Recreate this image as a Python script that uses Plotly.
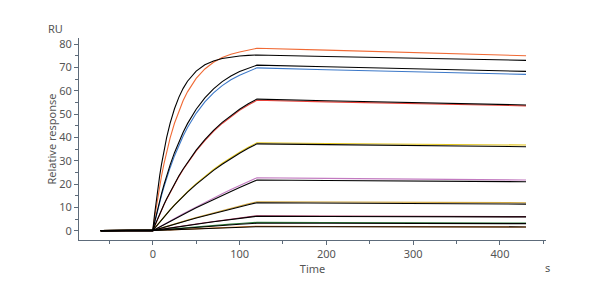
import plotly.graph_objects as go

# Time points (s)
T_BASE = [-60, 0]
T_ASSOC = [2, 4, 6, 8, 10, 13, 16, 20, 25, 30, 35, 40, 50, 60, 70, 80, 90, 100, 110, 120]
T_DISSOC = [200, 300, 430]

# Measured responses (RU), association then dissociation
data_1 = [5.34, 10.32, 14.96, 19.29, 23.33, 28.88, 33.87, 39.77, 46.06, 51.36, 55.79, 59.52, 65.27, 69.32, 72.18, 74.20, 75.61, 76.61, 77.32, 78.2, 77.4, 76.3, 75.0]
data_2 = [3.28, 6.41, 9.41, 12.27, 15.01, 18.89, 22.52, 27.00, 32.05, 36.56, 40.60, 44.21, 50.31, 55.19, 59.08, 62.19, 64.67, 66.65, 68.23, 69.8, 69.0, 68.1, 67.0]
data_3 = [1.85, 3.66, 5.42, 7.13, 8.79, 11.21, 13.52, 16.46, 19.93, 23.18, 26.21, 29.05, 34.16, 38.63, 42.54, 45.97, 48.95, 51.56, 53.84, 55.9, 55.2, 54.5, 53.5]
data_4 = [0.97, 1.92, 2.87, 3.79, 4.70, 6.04, 7.33, 9.04, 11.07, 13.04, 14.92, 16.74, 20.14, 23.29, 26.20, 28.87, 31.35, 33.64, 35.75, 37.69, 37.4, 37.1, 36.7]
data_5 = [0.43, 0.86, 1.29, 1.72, 2.14, 2.77, 3.40, 4.24, 5.26, 6.28, 7.28, 8.27, 10.23, 12.13, 14.00, 15.83, 17.60, 19.35, 21.05, 22.71, 22.4, 22.1, 21.7]
data_6 = [0.24, 0.46, 0.70, 0.94, 1.17, 1.51, 1.86, 2.31, 2.87, 3.43, 3.98, 4.51, 5.59, 6.62, 7.64, 8.64, 9.61, 10.57, 11.49, 12.40, 12.3, 12.2, 12.0]
data_7 = [0.12, 0.24, 0.36, 0.49, 0.61, 0.78, 0.96, 1.20, 1.49, 1.76, 2.05, 2.33, 2.88, 3.42, 3.94, 4.46, 4.96, 5.45, 5.93, 6.40, 6.3, 6.15, 6.0]
data_8 = [0.07, 0.14, 0.20, 0.27, 0.34, 0.44, 0.54, 0.68, 0.83, 0.99, 1.16, 1.32, 1.62, 1.92, 2.22, 2.51, 2.79, 3.07, 3.34, 3.60, 3.5, 3.4, 3.3]
data_9 = [0.03, 0.07, 0.11, 0.15, 0.18, 0.23, 0.28, 0.36, 0.44, 0.53, 0.60, 0.69, 0.86, 1.02, 1.17, 1.32, 1.48, 1.62, 1.77, 1.90, 1.8, 1.7, 1.6]

# Fitted curves (RU)
fit_1 = [6.78, 12.96, 18.57, 23.69, 28.35, 34.56, 39.96, 46.07, 52.25, 57.15, 61.01, 64.06, 68.39, 71.09, 72.78, 73.84, 74.50, 74.91, 75.17, 75.33, 74.7, 74.0, 73.0]
fit_2 = [3.45, 6.75, 9.89, 12.89, 15.75, 19.80, 23.58, 28.21, 33.44, 38.08, 42.21, 45.89, 52.06, 56.96, 60.82, 63.89, 66.31, 68.23, 69.75, 70.95, 70.25, 69.4, 68.3]
fit_3 = [1.87, 3.70, 5.47, 7.20, 8.88, 11.32, 13.66, 16.63, 20.13, 23.41, 26.47, 29.34, 34.50, 39.02, 42.97, 46.43, 49.44, 52.08, 54.38, 56.39, 55.7, 54.9, 53.9]
fit_4 = [0.96, 1.90, 2.83, 3.74, 4.64, 5.96, 7.24, 8.92, 10.93, 12.87, 14.73, 16.52, 19.88, 22.99, 25.86, 28.50, 30.95, 33.21, 35.29, 37.21, 36.9, 36.5, 36.0]
fit_5 = [0.41, 0.82, 1.23, 1.64, 2.05, 2.65, 3.25, 4.05, 5.03, 6.00, 6.96, 7.91, 9.78, 11.60, 13.38, 15.13, 16.83, 18.50, 20.12, 21.71, 21.5, 21.3, 21.0]
fit_6 = [0.23, 0.45, 0.68, 0.91, 1.13, 1.46, 1.80, 2.24, 2.78, 3.32, 3.85, 4.37, 5.41, 6.41, 7.40, 8.36, 9.30, 10.23, 11.12, 12.00, 11.85, 11.65, 11.4]
fit_7 = [0.12, 0.23, 0.35, 0.47, 0.59, 0.76, 0.93, 1.16, 1.44, 1.71, 1.99, 2.26, 2.79, 3.31, 3.82, 4.32, 4.81, 5.28, 5.75, 6.20, 6.1, 6.0, 5.9]
fit_8 = [0.06, 0.12, 0.18, 0.24, 0.30, 0.39, 0.48, 0.60, 0.74, 0.88, 1.03, 1.17, 1.44, 1.71, 1.97, 2.23, 2.48, 2.73, 2.97, 3.20, 3.15, 3.1, 3.0]
fit_9 = [0.03, 0.06, 0.10, 0.13, 0.16, 0.21, 0.25, 0.32, 0.39, 0.47, 0.54, 0.62, 0.77, 0.91, 1.05, 1.18, 1.32, 1.45, 1.58, 1.70, 1.67, 1.63, 1.6]

data_series = [data_1, data_2, data_3, data_4, data_5, data_6, data_7, data_8, data_9]
fit_series = [fit_1, fit_2, fit_3, fit_4, fit_5, fit_6, fit_7, fit_8, fit_9]
colors = ["#f06a35", "#3c78c8", "#e8423a", "#e3c51c", "#c27ac0",
          "#cfa640", "#a0305a", "#2e7d3a", "#e67e22"]

X = T_BASE + T_ASSOC + T_DISSOC
fig = go.Figure()
for ys, c in zip(data_series, colors):
    fig.add_trace(go.Scatter(x=X, y=[0, 0] + ys, mode="lines",
                             line=dict(color=c, width=1.1), showlegend=False))
for ys in fit_series:
    fig.add_trace(go.Scatter(x=X, y=[0, 0] + ys, mode="lines",
                             line=dict(color="#000000", width=1.1), showlegend=False))

axis_col = "#5d6b7a"
font = dict(family="Noto Sans", size=11, color="#555")
fig.update_layout(
    width=600, height=300,
    margin=dict(l=79, r=54, t=38, b=60),
    paper_bgcolor="white", plot_bgcolor="white",
    font=font,
    xaxis=dict(range=[-85, 453], tickvals=[0, 100, 200, 300, 400],
               showline=True, linecolor=axis_col, linewidth=1,
               ticks="outside", ticklen=4, tickcolor=axis_col,
               minor=dict(dtick=50, tick0=0, ticks="outside", ticklen=3, tickcolor=axis_col),
               showgrid=False, zeroline=False, tickfont=font,
               title=dict(text="Time", font=font, standoff=2)),
    yaxis=dict(range=[-4, 82.6], tickvals=[0, 10, 20, 30, 40, 50, 60, 70, 80],
               showline=True, linecolor=axis_col, linewidth=1,
               ticks="outside", ticklen=4, tickcolor=axis_col,
               minor=dict(dtick=5, tick0=0, ticks="outside", ticklen=3, tickcolor=axis_col),
               showgrid=False, zeroline=False, tickfont=font,
               title=dict(text="Relative response", font=font, standoff=0)),
    annotations=[
        dict(text="RU", xref="paper", yref="paper", x=-0.05, y=1.045,
             showarrow=False, font=font, xanchor="center", yanchor="middle"),
        dict(text="s", xref="paper", yref="paper", x=1.004, y=-0.134,
             showarrow=False, font=font, xanchor="center", yanchor="middle"),
    ],
)
fig.write_html("out.html")
